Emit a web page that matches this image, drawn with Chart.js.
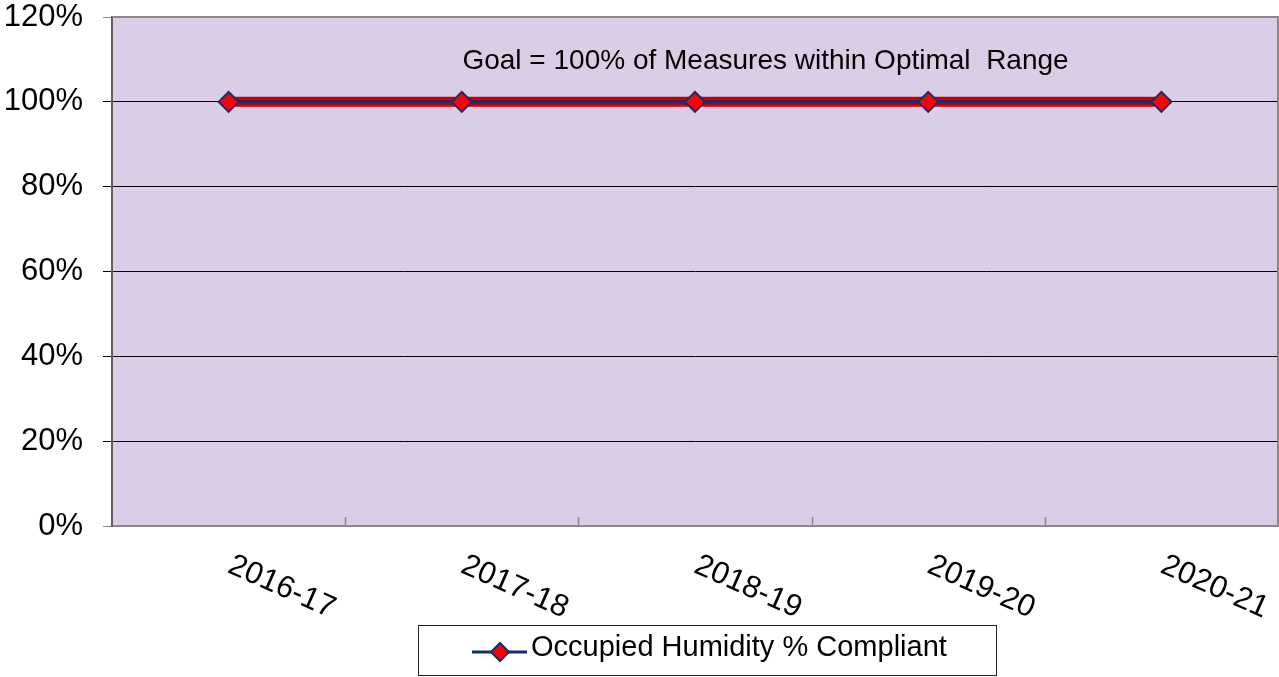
<!DOCTYPE html>
<html>
<head>
<meta charset="utf-8">
<script src="https://cdn.jsdelivr.net/npm/chart.js@4.4.1/dist/chart.umd.min.js"></script>
<style>
  html, body { margin: 0; padding: 0; background: #ffffff; }
  #wrap { width: 1279px; height: 677px; position: relative; }
</style>
</head>
<body>
<div id="wrap"><canvas id="c" width="1279" height="677"></canvas></div>
<script>
const categories = ['2016-17', '2017-18', '2018-19', '2019-20', '2020-21'];
const compliantValues = [100, 100, 100, 100, 100];
const goalValues = [100, 100, 100, 100, 100];
const yMin = 0, yMax = 120, yStep = 20;
const seriesLabel = 'Occupied Humidity % Compliant';
const goalText = 'Goal = 100% of Measures within Optimal  Range';

const FONT = "'Liberation Sans', Arial, sans-serif";
const NAVY = '#1a2a6c';
const RED_BAND = '#c40008';
const PLOT_BG = '#dccde6';

Chart.defaults.font.family = FONT;
Chart.defaults.color = '#000';

const decorPlugin = {
  id: 'decor',
  beforeDraw(chart) {
    const { ctx, chartArea: a } = chart;
    ctx.save();
    ctx.fillStyle = '#fff';
    ctx.fillRect(0, 0, chart.width, chart.height);
    ctx.fillStyle = PLOT_BG;
    ctx.fillRect(a.left, a.top, a.right - a.left, a.bottom - a.top);
    ctx.restore();
  },
  afterDraw(chart) {
    const { ctx, chartArea: a } = chart;
    const xs = chart.scales.x, ys = chart.scales.y;
    ctx.save();
    // top and right frame
    ctx.strokeStyle = '#888';
    ctx.lineWidth = 2;
    ctx.beginPath();
    ctx.moveTo(a.left, a.top);
    ctx.lineTo(a.right, a.top);
    ctx.lineTo(a.right, a.bottom);
    ctx.stroke();
    // x tick marks (inside, between categories)
    ctx.strokeStyle = '#888';
    ctx.lineWidth = 1.5;
    for (let i = 0; i < categories.length - 1; i++) {
      const px = Math.round((xs.getPixelForValue(i) + xs.getPixelForValue(i + 1)) / 2) + 0.5;
      ctx.beginPath();
      ctx.moveTo(px, a.bottom);
      ctx.lineTo(px, a.bottom - 9);
      ctx.stroke();
    }
    // rotated x labels
    ctx.fillStyle = '#000';
    ctx.font = '31px ' + FONT;
    ctx.textAlign = 'center';
    ctx.textBaseline = 'middle';
    categories.forEach((c, i) => {
      const cx = xs.getPixelForValue(i);
      ctx.save();
      ctx.translate(cx + 53, a.bottom + 61);
      ctx.rotate(24 * Math.PI / 180);
      ctx.fillText(c, 0, 0);
      ctx.restore();
    });
    // goal text
    ctx.font = '28px ' + FONT;
    ctx.textAlign = 'center';
    ctx.textBaseline = 'alphabetic';
    ctx.fillText(goalText, a.left + (a.right - a.left) * 0.5605, ys.getPixelForValue(107.7));
    // legend
    const bx = 418.5, by = 625.5, bw = 578, bh = 50;
    ctx.fillStyle = '#fff';
    ctx.fillRect(bx, by, bw, bh);
    ctx.strokeStyle = '#222';
    ctx.lineWidth = 1;
    ctx.strokeRect(bx, by, bw, bh);
    const ly = 652;
    ctx.strokeStyle = NAVY;
    ctx.lineWidth = 3;
    ctx.beginPath();
    ctx.moveTo(472, ly);
    ctx.lineTo(527, ly);
    ctx.stroke();
    ctx.beginPath();
    const dr = 9, dx = 500;
    ctx.moveTo(dx - dr, ly);
    ctx.lineTo(dx, ly - dr);
    ctx.lineTo(dx + dr, ly);
    ctx.lineTo(dx, ly + dr);
    ctx.closePath();
    ctx.fillStyle = '#ff0000';
    ctx.fill();
    ctx.lineWidth = 2;
    ctx.strokeStyle = NAVY;
    ctx.stroke();
    ctx.fillStyle = '#000';
    ctx.font = '29px ' + FONT;
    ctx.textAlign = 'left';
    ctx.textBaseline = 'middle';
    ctx.fillText(seriesLabel, 531, 648);
    ctx.restore();
  }
};

new Chart(document.getElementById('c'), {
  type: 'line',
  data: {
    labels: categories,
    datasets: [
      {
        label: seriesLabel,
        data: compliantValues,
        borderColor: NAVY,
        borderWidth: 3,
        pointStyle: 'rectRot',
        pointRadius: 10,
        pointBackgroundColor: '#ff0000',
        pointBorderColor: NAVY,
        pointBorderWidth: 2,
        order: 0
      },
      {
        label: 'Goal',
        data: goalValues,
        borderColor: RED_BAND,
        borderWidth: 10,
        pointRadius: 0,
        borderCapStyle: 'butt',
        order: 1
      }
    ]
  },
  options: {
    responsive: false,
    animation: false,
    layout: { autoPadding: false, padding: { top: 17, right: 1, left: 0, bottom: 0 } },
    plugins: {
      legend: { display: false },
      tooltip: { enabled: false },
      title: { display: false }
    },
    scales: {
      x: {
        type: 'category',
        offset: true,
        grid: { display: false },
        border: { display: true, color: '#888', width: 2 },
        ticks: { display: false },
        afterFit(scale) {
          scale.height = 151;
          scale.paddingLeft = 0; scale.paddingRight = 0;
          scale.paddingTop = 0; scale.paddingBottom = 0;
        }
      },
      y: {
        min: yMin,
        max: yMax,
        ticks: {
          stepSize: yStep,
          padding: 20,
          font: { size: 31 },
          color: '#000',
          callback: v => v + '%'
        },
        grid: {
          drawTicks: true,
          tickLength: 9,
          color: c => (c.tick && (c.tick.value === yMin || c.tick.value === yMax)) ? 'rgba(0,0,0,0)' : '#000',
          tickColor: c => (c.tick && (c.tick.value === yMin || c.tick.value === yMax)) ? '#888' : '#000',
          lineWidth: 1
        },
        border: { display: true, color: '#606060', width: 2 },
        afterFit(scale) {
          scale.width = 112;
          scale.paddingTop = 0; scale.paddingBottom = 0;
          scale.paddingLeft = 0; scale.paddingRight = 0;
        }
      }
    }
  },
  plugins: [decorPlugin]
});
</script>
</body>
</html>
